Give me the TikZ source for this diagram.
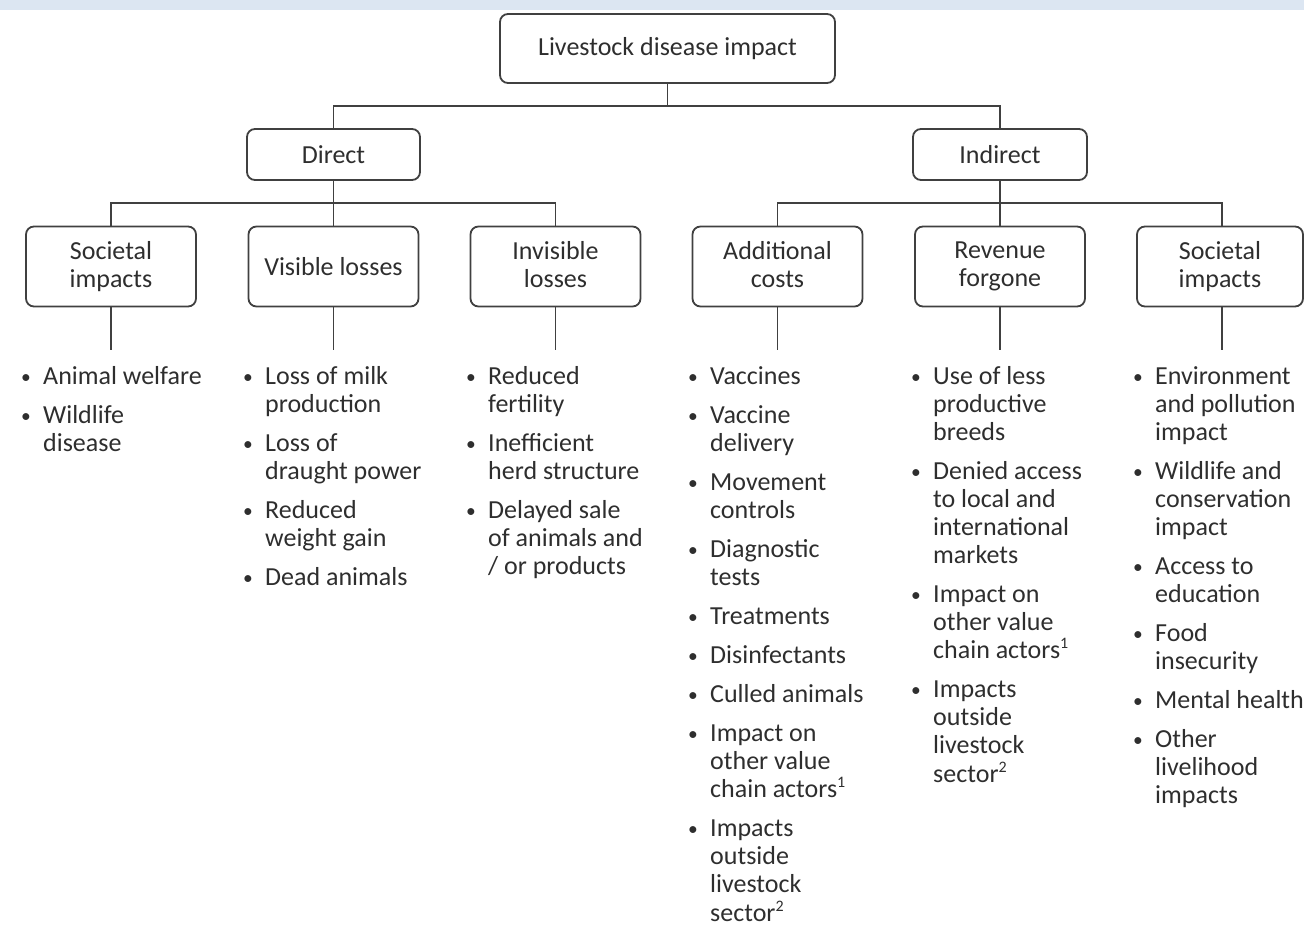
\documentclass[tikz,border=0pt]{standalone}
\usepackage{fontspec}
\setmainfont{Carlito}
\definecolor{inkc}{HTML}{2E2E2E}
\definecolor{linec}{HTML}{404040}
\definecolor{bandc}{HTML}{DCE6F2}
\newcommand\bl{\raisebox{1pt}{\scalebox{0.75}{\textbullet}}}
\newcommand\gap{\\[11pt]}
\newcommand\fnmark[1]{\raisebox{0.38em}{\fontsize{16}{16}\selectfont #1}}
\newenvironment{blist}{\begin{tabular}[t]{@{}p{22pt}@{}l@{}}}{\end{tabular}}
\begin{document}
\begin{tikzpicture}[x=1pt,y=-1pt,
  every node/.style={font=\fontsize{26}{28}\selectfont, text=inkc},
  box/.style={draw=linec, line width=1.8pt, rounded corners=8pt, inner sep=0pt, align=center},
  link/.style={draw=linec, line width=1.8pt},
  lst/.style={anchor=base west, inner sep=0pt}]
\useasboundingbox (0,0) rectangle (1304,926);
\fill[bandc] (0,0) rectangle (1304,10);

% tree boxes
\node[box, minimum width=335pt, minimum height=69pt] (root) at (667.5,48.5) {Livestock disease impact};
\node[box, minimum width=173pt, minimum height=51pt] (direct) at (333.5,154.5) {Direct};
\node[box, minimum width=174pt, minimum height=51pt] (indirect) at (1000,154.5) {Indirect};

\tikzset{leaf/.style={box, minimum width=170pt, minimum height=80pt}}
\node[leaf] (soc1) at (111,266.5) {Societal\\impacts};
\node[leaf] (vis) at (333.5,266.5) {Visible losses};
\node[leaf] (inv) at (555.5,266.5) {Invisible\\losses\vphantom{p}};
\node[leaf] (add) at (777.5,266.5) {Additional\\costs\vphantom{p}};
\node[leaf] (rev) at (1000,266.5) {Revenue\\forgone};
\node[leaf, minimum width=166pt] (soc2) at (1220,266.5) {Societal\\impacts};

% connectors
\coordinate (j0) at (667.5,106);
\coordinate (j1) at (333.5,203);
\coordinate (j2) at (1000,203);
\draw[link] (root.south) -- (j0);
\draw[link] (direct.north) -- (direct.north |- j0) -- (indirect.north |- j0) -- (indirect.north);
\draw[link] (direct.south) -- (j1);
\draw[link] (soc1.north) -- (soc1.north |- j1) -- (inv.north |- j1) -- (inv.north);
\draw[link] (vis.north) -- (j1);
\draw[link] (indirect.south) -- (j2);
\draw[link] (add.north) -- (add.north |- j2) -- (1222,203) -- (1222,226.5);
\draw[link] (rev.north) -- (j2);
\foreach \n/\xx in {soc1/111, vis/333.5, inv/555.5, add/777.5, rev/1000}
  \draw[link] (\n.south) -- (\xx,350);
\draw[link] (1222,306.5) -- (1222,350);

% bullet lists
\node[lst] (l1) at (21,384) {\begin{blist}
\bl & Animal welfare\gap
\bl & Wildlife\\ & disease
\end{blist}};
\node[lst] (l2) at (243,384) {\begin{blist}
\bl & Loss of milk\\ & production\gap
\bl & Loss of\\ & draught power\gap
\bl & Reduced\\ & weight gain\gap
\bl & Dead animals
\end{blist}};
\node[lst] (l3) at (466,384) {\begin{blist}
\bl & Reduced\\ & fertility\gap
\bl & Inefficient\\ & herd structure\gap
\bl & Delayed sale\\ & of animals and\\ & / or products
\end{blist}};
\node[lst] (l4) at (688,384) {\begin{blist}
\bl & Vaccines\gap
\bl & Vaccine\\ & delivery\gap
\bl & Movement\\ & controls\gap
\bl & Diagnostic\\ & tests\gap
\bl & Treatments\gap
\bl & Disinfectants\gap
\bl & Culled animals\gap
\bl & Impact on\\ & other value\\ & chain actors\fnmark{1}\gap
\bl & Impacts\\ & outside\\ & livestock\\ & sector\fnmark{2}
\end{blist}};
\node[lst] (l5) at (911,384) {\begin{blist}
\bl & Use of less\\ & productive\\ & breeds\gap
\bl & Denied access\\ & to local and\\ & international\\ & markets\gap
\bl & Impact on\\ & other value\\ & chain actors\fnmark{1}\gap
\bl & Impacts\\ & outside\\ & livestock\\ & sector\fnmark{2}
\end{blist}};
\node[lst] (l6) at (1133,384) {\begin{blist}
\bl & Environment\\ & and pollution\\ & impact\gap
\bl & Wildlife and\\ & conservation\\ & impact\gap
\bl & Access to\\ & education\gap
\bl & Food\\ & insecurity\gap
\bl & Mental health\gap
\bl & Other\\ & livelihood\\ & impacts
\end{blist}};
\end{tikzpicture}
\end{document}
